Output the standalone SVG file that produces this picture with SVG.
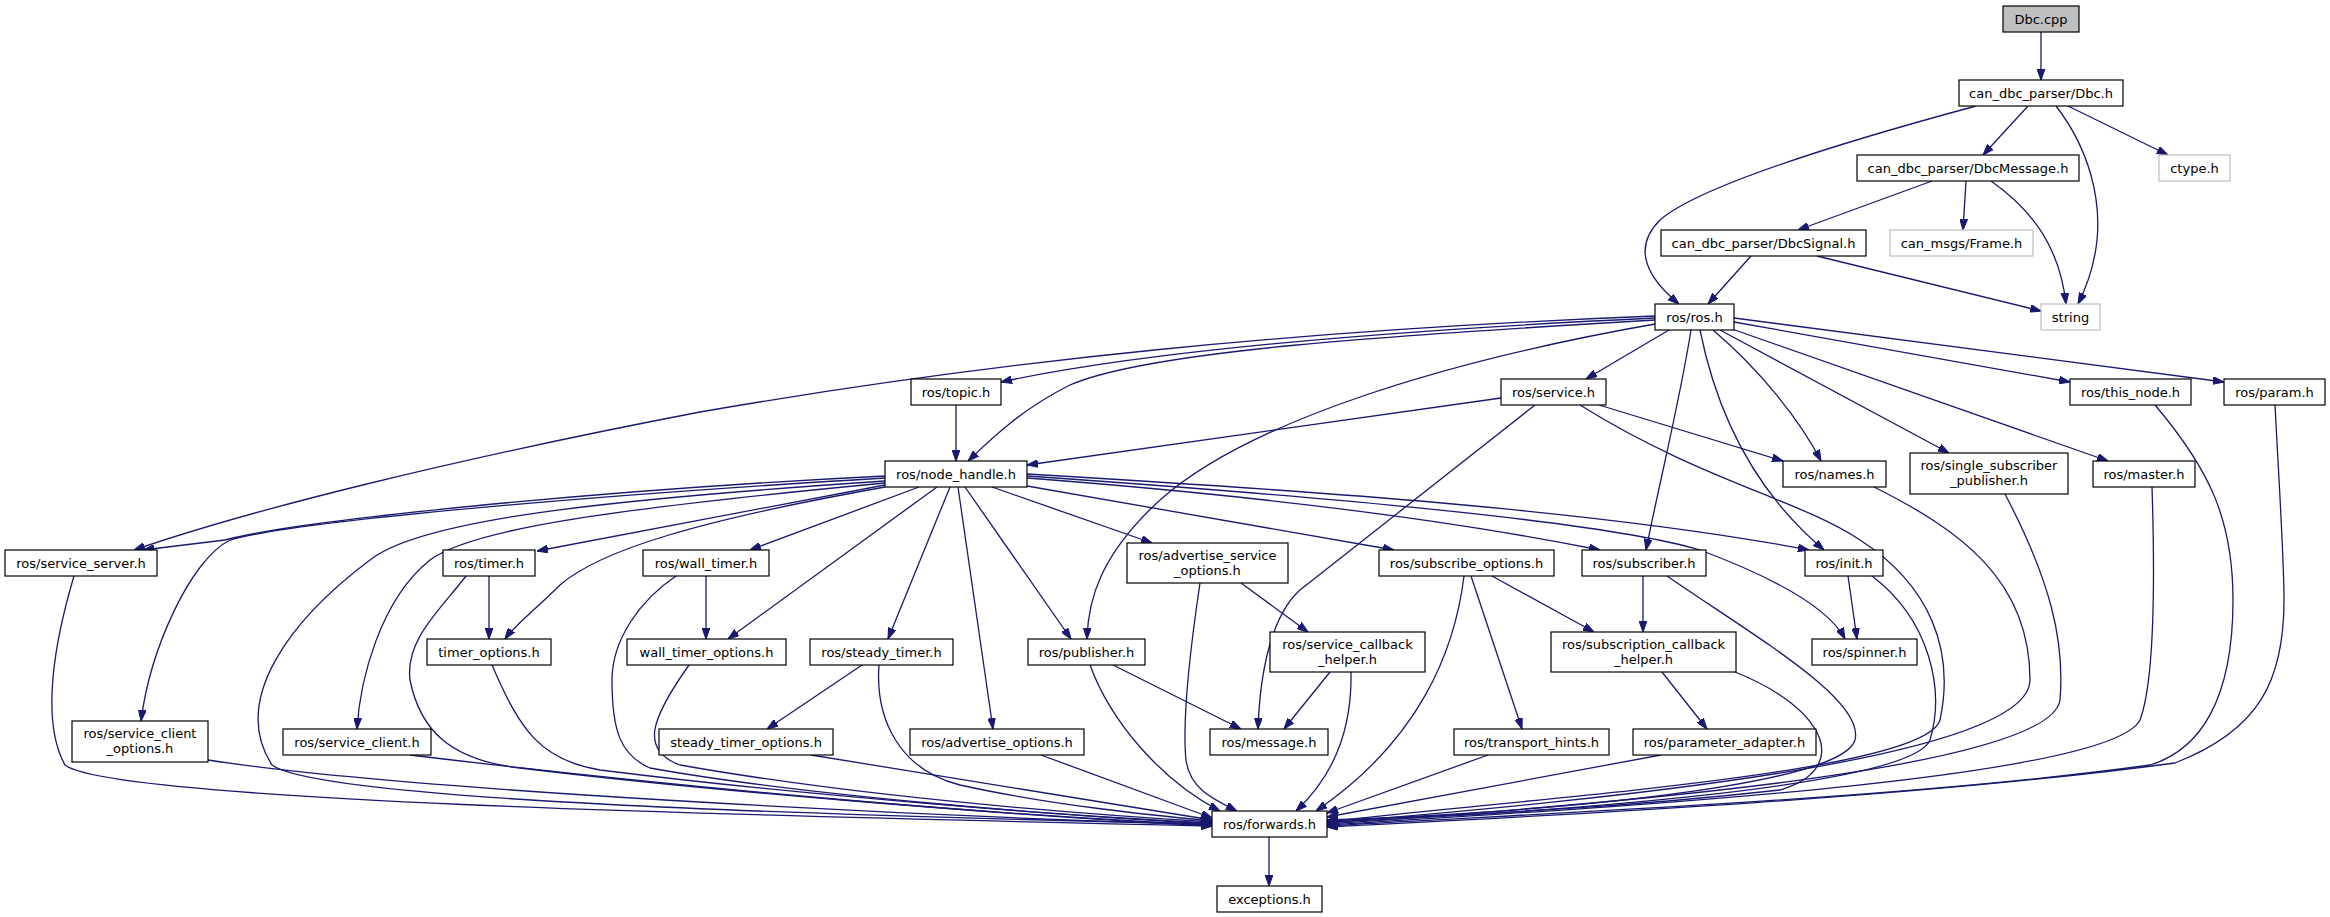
<svg xmlns="http://www.w3.org/2000/svg" width="2330" height="917" viewBox="0 0 2330 917">
<style>
.n rect{fill:#fff;stroke:#000;stroke-width:1.2}
.n.g rect{stroke:#bfbfbf}
.n.r rect{fill:#bfbfbf;stroke:#000}
.n text{font-family:"DejaVu Sans",sans-serif;font-size:13px;fill:#000;text-anchor:middle}
#edges path{fill:none;stroke:#191970;stroke-width:1.3;marker-end:url(#a)}
</style>
<defs>
<marker id="a" viewBox="0 0 10 7" refX="10" refY="3.5" markerWidth="11" markerHeight="8" orient="auto" markerUnits="userSpaceOnUse"><path d="M0,0 L10,3.5 L0,7 z" fill="#191970" stroke="#191970"/></marker>
</defs>
<rect width="2330" height="917" fill="#fff"/>
<g id="edges">
<path d="M2041,32 L2041,80"/>
<path d="M1976,106 C1850,140 1700,185 1660,220 C1630,250 1650,280 1679,304"/>
<path d="M2028,106 L1983,155"/>
<path d="M2056,106 C2090,150 2101,200 2097,240 C2094,270 2085,290 2078,304"/>
<path d="M2068,106 L2168,155"/>
<path d="M1932,181 L1798,230"/>
<path d="M1966,181 L1963,230"/>
<path d="M1991,181 C2035,212 2060,250 2066,304"/>
<path d="M1751,256 L1708,304"/>
<path d="M1817,256 L2041,311"/>
<path d="M1655,316 C1300,330 1000,360 700,412 C450,460 250,510 134,550"/>
<path d="M1655,318 C1400,330 1150,350 1001,382"/>
<path d="M1655,320 C1400,335 1150,350 1070,385 C1020,410 990,440 968,461"/>
<path d="M1669,330 L1586,379"/>
<path d="M1655,324 C1450,360 1250,420 1160,500 C1100,555 1088,600 1087,639"/>
<path d="M1691,330 C1680,400 1660,480 1646,550"/>
<path d="M1713,330 C1760,370 1800,420 1821,461"/>
<path d="M1700,330 C1720,430 1765,500 1824,550"/>
<path d="M1720,330 L1949,453"/>
<path d="M1732,329 L2108,461"/>
<path d="M1734,322 L2070,382"/>
<path d="M1734,318 L2224,382"/>
<path d="M956,405 L956,461"/>
<path d="M1501,398 L1027,465"/>
<path d="M1599,405 L1783,461"/>
<path d="M1535,405 L1300,590 C1272,615 1260,670 1258,729"/>
<path d="M1580,405 C1700,480 1800,500 1860,540 C1930,585 1955,650 1940,720 C1925,775 1500,800 1327,822"/>
<path d="M1874,487 C1960,530 2030,580 2030,680 C2030,760 1600,800 1327,823"/>
<path d="M2005,494 C2050,580 2065,640 2060,700 C2050,770 1600,805 1327,824"/>
<path d="M2152,487 C2155,580 2155,680 2140,720 C2110,780 1600,808 1327,825"/>
<path d="M2155,405 C2210,470 2233,520 2233,600 C2233,700 2200,750 2150,765 C1900,800 1500,815 1327,826"/>
<path d="M2275,405 C2280,500 2284,560 2284,600 C2284,680 2260,730 2175,763 C1900,800 1500,818 1327,827"/>
<path d="M74,576 C55,640 40,720 65,765 C110,800 700,815 1212,826"/>
<path d="M208,760 C400,790 900,815 1212,825"/>
<path d="M885,481 C600,500 420,520 370,560 C290,620 230,700 272,765 C320,800 800,815 1212,824"/>
<path d="M885,483 C600,510 470,530 430,560 C380,600 360,680 357,729"/>
<path d="M885,476 C600,490 300,520 225,540 L143,550"/>
<path d="M885,478 C600,495 300,520 230,540 C190,560 150,650 141,721"/>
<path d="M885,485 L537,551"/>
<path d="M885,487 C700,520 600,550 560,585 C535,610 515,625 505,639"/>
<path d="M466,576 C440,610 405,640 410,680 C420,730 450,760 520,768 C700,790 1000,815 1212,825"/>
<path d="M489,576 L489,639"/>
<path d="M706,576 L706,639"/>
<path d="M676,576 C640,600 612,640 612,680 C612,730 620,755 650,768 C800,795 1050,815 1212,824"/>
<path d="M919,487 L750,550"/>
<path d="M937,487 L728,639"/>
<path d="M950,487 L888,639"/>
<path d="M958,487 L993,729"/>
<path d="M965,487 L1071,639"/>
<path d="M992,487 L1152,543"/>
<path d="M1027,486 L1394,550"/>
<path d="M1027,478 C1250,495 1450,520 1600,550"/>
<path d="M1027,474 C1300,490 1600,510 1809,550"/>
<path d="M1027,476 C1300,495 1600,520 1700,550 C1780,580 1830,610 1845,639"/>
<path d="M492,665 C520,730 540,760 600,770 C800,795 1050,815 1212,823"/>
<path d="M689,665 C650,720 640,750 680,765 C850,795 1050,812 1212,822"/>
<path d="M862,665 L767,729"/>
<path d="M879,665 C875,720 900,770 960,785 C1050,805 1150,815 1212,821"/>
<path d="M811,755 L1212,820"/>
<path d="M1041,755 L1212,818"/>
<path d="M1113,665 L1241,729"/>
<path d="M1090,665 C1110,720 1160,780 1220,811"/>
<path d="M1241,583 L1308,632"/>
<path d="M1200,583 C1190,650 1182,720 1186,760 C1190,790 1215,800 1237,811"/>
<path d="M1330,672 L1284,729"/>
<path d="M1351,672 C1352,720 1340,770 1296,811"/>
<path d="M1464,576 C1455,650 1420,740 1316,811"/>
<path d="M1471,576 L1522,729"/>
<path d="M1492,576 L1594,632"/>
<path d="M1643,576 L1643,632"/>
<path d="M1667,576 C1760,640 1865,700 1855,740 C1840,790 1500,815 1327,820"/>
<path d="M1488,755 L1327,813"/>
<path d="M1661,755 L1327,817"/>
<path d="M1662,672 L1707,729"/>
<path d="M1735,672 C1830,710 1850,770 1780,790 C1600,810 1450,815 1327,821"/>
<path d="M1848,576 L1857,639"/>
<path d="M1872,576 C1930,620 1945,690 1930,740 C1910,790 1500,815 1327,822"/>
<path d="M1269,837 L1269,886"/>
<path d="M410,755 C700,790 1000,815 1212,826"/>
</g>
<g id="n0" class="n r"><rect x="2003" y="6" width="76" height="26"/><text x="2041" y="23.5">Dbc.cpp</text></g>
<g id="n1" class="n"><rect x="1959" y="80" width="164" height="26"/><text x="2041" y="97.5">can_dbc_parser/Dbc.h</text></g>
<g id="n2" class="n"><rect x="1857" y="155" width="222" height="26"/><text x="1968" y="172.5">can_dbc_parser/DbcMessage.h</text></g>
<g id="n3" class="n g"><rect x="2159" y="155" width="71" height="26"/><text x="2194.5" y="172.5">ctype.h</text></g>
<g id="n4" class="n"><rect x="1661" y="230" width="205" height="26"/><text x="1763.5" y="247.5">can_dbc_parser/DbcSignal.h</text></g>
<g id="n5" class="n g"><rect x="1890" y="230" width="143" height="26"/><text x="1961.5" y="247.5">can_msgs/Frame.h</text></g>
<g id="n6" class="n"><rect x="1655" y="304" width="79" height="26"/><text x="1694.5" y="321.5">ros/ros.h</text></g>
<g id="n7" class="n g"><rect x="2041" y="304" width="59" height="26"/><text x="2070.5" y="321.5">string</text></g>
<g id="n8" class="n"><rect x="911" y="379" width="90" height="26"/><text x="956" y="396.5">ros/topic.h</text></g>
<g id="n9" class="n"><rect x="1501" y="379" width="105" height="26"/><text x="1553.5" y="396.5">ros/service.h</text></g>
<g id="n10" class="n"><rect x="2070" y="379" width="121" height="26"/><text x="2130.5" y="396.5">ros/this_node.h</text></g>
<g id="n11" class="n"><rect x="2224" y="379" width="101" height="26"/><text x="2274.5" y="396.5">ros/param.h</text></g>
<g id="n12" class="n"><rect x="885" y="461" width="142" height="26"/><text x="956" y="478.5">ros/node_handle.h</text></g>
<g id="n13" class="n"><rect x="1783" y="461" width="103" height="26"/><text x="1834.5" y="478.5">ros/names.h</text></g>
<g id="n14" class="n"><rect x="1910" y="453" width="158" height="41"/><text x="1989" y="470">ros/single_subscriber</text><text x="1989" y="485">_publisher.h</text></g>
<g id="n15" class="n"><rect x="2093" y="461" width="102" height="26"/><text x="2144" y="478.5">ros/master.h</text></g>
<g id="n16" class="n"><rect x="5" y="550" width="152" height="26"/><text x="81" y="567.5">ros/service_server.h</text></g>
<g id="n17" class="n"><rect x="443" y="550" width="92" height="26"/><text x="489" y="567.5">ros/timer.h</text></g>
<g id="n18" class="n"><rect x="643" y="550" width="126" height="26"/><text x="706" y="567.5">ros/wall_timer.h</text></g>
<g id="n19" class="n"><rect x="1127" y="543" width="161" height="40"/><text x="1207.5" y="559.5">ros/advertise_service</text><text x="1207.5" y="574.5">_options.h</text></g>
<g id="n20" class="n"><rect x="1379" y="550" width="175" height="26"/><text x="1466.5" y="567.5">ros/subscribe_options.h</text></g>
<g id="n21" class="n"><rect x="1582" y="550" width="124" height="26"/><text x="1644" y="567.5">ros/subscriber.h</text></g>
<g id="n22" class="n"><rect x="1805" y="550" width="78" height="26"/><text x="1844" y="567.5">ros/init.h</text></g>
<g id="n23" class="n"><rect x="427" y="639" width="124" height="26"/><text x="489" y="656.5">timer_options.h</text></g>
<g id="n24" class="n"><rect x="627" y="639" width="159" height="26"/><text x="706.5" y="656.5">wall_timer_options.h</text></g>
<g id="n25" class="n"><rect x="810" y="639" width="143" height="26"/><text x="881.5" y="656.5">ros/steady_timer.h</text></g>
<g id="n26" class="n"><rect x="1028" y="639" width="117" height="26"/><text x="1086.5" y="656.5">ros/publisher.h</text></g>
<g id="n27" class="n"><rect x="1270" y="632" width="155" height="40"/><text x="1347.5" y="648.5">ros/service_callback</text><text x="1347.5" y="663.5">_helper.h</text></g>
<g id="n28" class="n"><rect x="1551" y="632" width="185" height="40"/><text x="1643.5" y="648.5">ros/subscription_callback</text><text x="1643.5" y="663.5">_helper.h</text></g>
<g id="n29" class="n"><rect x="1812" y="639" width="105" height="26"/><text x="1864.5" y="656.5">ros/spinner.h</text></g>
<g id="n30" class="n"><rect x="72" y="721" width="136" height="41"/><text x="140" y="738">ros/service_client</text><text x="140" y="753">_options.h</text></g>
<g id="n31" class="n"><rect x="283" y="729" width="148" height="26"/><text x="357" y="746.5">ros/service_client.h</text></g>
<g id="n32" class="n"><rect x="659" y="729" width="174" height="26"/><text x="746" y="746.5">steady_timer_options.h</text></g>
<g id="n33" class="n"><rect x="910" y="729" width="174" height="26"/><text x="997" y="746.5">ros/advertise_options.h</text></g>
<g id="n34" class="n"><rect x="1210" y="729" width="118" height="26"/><text x="1269" y="746.5">ros/message.h</text></g>
<g id="n35" class="n"><rect x="1454" y="729" width="155" height="26"/><text x="1531.5" y="746.5">ros/transport_hints.h</text></g>
<g id="n36" class="n"><rect x="1633" y="729" width="183" height="26"/><text x="1724.5" y="746.5">ros/parameter_adapter.h</text></g>
<g id="n37" class="n"><rect x="1212" y="811" width="115" height="26"/><text x="1269.5" y="828.5">ros/forwards.h</text></g>
<g id="n38" class="n"><rect x="1217" y="886" width="105" height="26"/><text x="1269.5" y="903.5">exceptions.h</text></g>
</svg>
